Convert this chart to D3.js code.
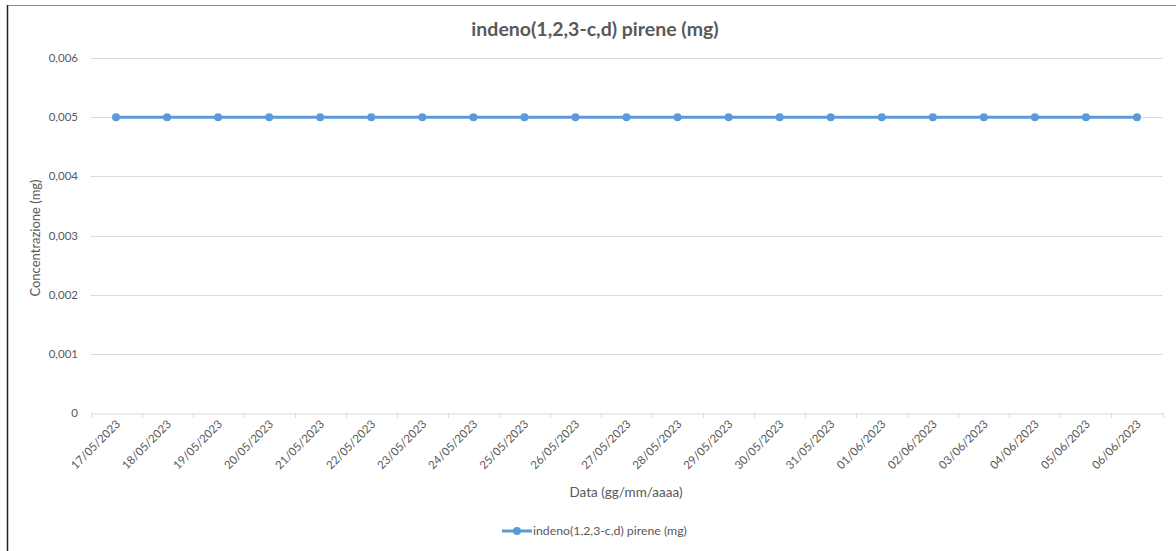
<!DOCTYPE html>
<html><head><meta charset="utf-8">
<script src="https://cdn.jsdelivr.net/npm/d3@7"></script>
<style>
body{margin:0;background:#fff;}
svg{display:block;font-family:Lato,"Open Sans",sans-serif;}
</style></head>
<body><svg id="chart" width="1176" height="551"></svg>
<script>
const categories = ["17/05/2023","18/05/2023","19/05/2023","20/05/2023","21/05/2023","22/05/2023","23/05/2023","24/05/2023","25/05/2023","26/05/2023","27/05/2023","28/05/2023","29/05/2023","30/05/2023","31/05/2023","01/06/2023","02/06/2023","03/06/2023","04/06/2023","05/06/2023","06/06/2023"];
const values = [0.005,0.005,0.005,0.005,0.005,0.005,0.005,0.005,0.005,0.005,0.005,0.005,0.005,0.005,0.005,0.005,0.005,0.005,0.005,0.005,0.005];
const yTicks = [0,0.001,0.002,0.003,0.004,0.005,0.006];
const seriesName = "indeno(1,2,3-c,d) pirene (mg)";
const titleText = "indeno(1,2,3-c,d) pirene (mg)";
const xTitle = "Data (gg/mm/aaaa)";
const yTitle = "Concentrazione (mg)";

const svg = d3.select("#chart");
const W = 1176, H = 551;
const m = {left: 90.5, right: 1162.5, top: 58, bottom: 413};
const color = "#5B9BD5";
const textColor = "#595959";

// border
svg.append("line").attr("x1",7).attr("x2",W).attr("y1",5.5).attr("y2",5.5).attr("stroke","#8c8c8c").attr("stroke-width",1);
svg.append("line").attr("x1",7.5).attr("x2",7.5).attr("y1",5).attr("y2",H).attr("stroke","#222").attr("stroke-width",1.5);

const x = d3.scaleBand().domain(categories).range([m.left, m.right]);
const y = d3.scaleLinear().domain([0,0.006]).range([m.bottom, m.top]);

// gridlines
svg.append("g").selectAll("line").data(yTicks.filter(d=>d>0)).join("line")
  .attr("x1",m.left).attr("x2",m.right)
  .attr("y1",d=>Math.round(y(d))+0.5).attr("y2",d=>Math.round(y(d))+0.5)
  .attr("stroke","#d9d9d9").attr("stroke-width",1);

// y axis labels
const fmt = d => d===0 ? "0" : d3.format(".3f")(d).replace(".",",");
svg.append("g").selectAll("text").data(yTicks).join("text")
  .attr("x",78).attr("y",d=>y(d)).attr("dy","0.35em")
  .attr("text-anchor","end").attr("font-size",11.5).attr("fill",textColor)
  .text(fmt);

// x axis
const xAxis = d3.axisBottom(x).tickSize(0).tickFormat("");
const gx = svg.append("g").attr("transform",`translate(0,${m.bottom+0.5})`).call(xAxis);
gx.select(".domain").attr("stroke","#d9d9d9");
// tick marks at band boundaries
const bounds = categories.map(c=>x(c)).concat([x(categories[categories.length-1])+x.bandwidth()]);
svg.append("g").selectAll("line").data(bounds).join("line")
  .attr("x1",d=>Math.round(d)+0.5).attr("x2",d=>Math.round(d)+0.5)
  .attr("y1",m.bottom).attr("y2",m.bottom+5)
  .attr("stroke","#d9d9d9");

// x labels rotated
svg.append("g").selectAll("text").data(categories).join("text")
  .attr("transform",d=>`translate(${x(d)+x.bandwidth()/2+2},${m.bottom+9}) rotate(-45)`)
  .attr("text-anchor","end").attr("font-size",11.5).attr("fill",textColor)
  .attr("dy","0.35em")
  .text(d=>d);

// line
const line = d3.line().x((d,i)=>x(categories[i])+x.bandwidth()/2).y(d=>y(d));
svg.append("path").datum(values).attr("d",line).attr("fill","none")
  .attr("stroke",color).attr("stroke-width",3).attr("stroke-linejoin","round");
svg.append("g").selectAll("circle").data(values).join("circle")
  .attr("cx",(d,i)=>x(categories[i])+x.bandwidth()/2).attr("cy",d=>y(d))
  .attr("r",4).attr("fill",color);

// titles
svg.append("text").attr("x",595).attr("y",36).attr("text-anchor","middle")
  .attr("font-size",19.5).attr("font-weight","bold").attr("fill",textColor).text(titleText);
svg.append("text").attr("x",626).attr("y",497).attr("text-anchor","middle")
  .attr("font-size",13.5).attr("fill",textColor).text(xTitle);
svg.append("text").attr("transform","translate(40,238) rotate(-90)").attr("text-anchor","middle")
  .attr("font-size",13).attr("fill",textColor).text(yTitle);

// legend
const ly = 531;
svg.append("line").attr("x1",502).attr("x2",532).attr("y1",ly).attr("y2",ly).attr("stroke",color).attr("stroke-width",3);
svg.append("circle").attr("cx",517).attr("cy",ly).attr("r",4).attr("fill",color);
svg.append("text").attr("x",533).attr("y",ly).attr("dy","0.35em").attr("font-size",12.3).attr("fill",textColor).text(seriesName);
</script></body></html>
